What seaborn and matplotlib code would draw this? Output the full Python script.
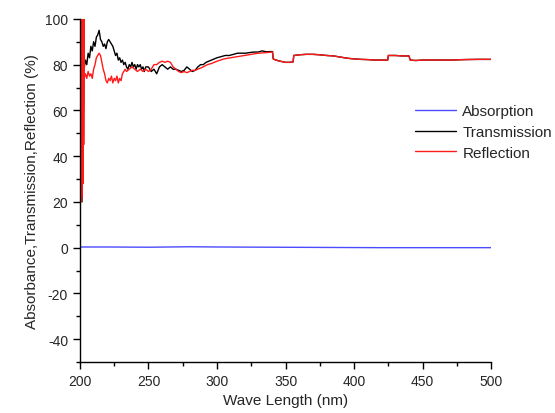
import numpy as np
import pandas as pd
import matplotlib
matplotlib.use("Agg")
import matplotlib.pyplot as plt
from matplotlib.ticker import MultipleLocator
import seaborn as sns

# Datos (nm, %)
abs_wl = [200, 220, 250, 280, 300, 340, 380, 420, 460, 500]
abs_val = [0.3, 0.3, 0.2, 0.4, 0.3, 0.2, 0.1, 0.0, 0.0, 0.0]

tra_wl = [201.5, 202, 202.5, 203, 204, 205, 206, 207, 208, 209, 210, 211, 212, 213, 214,
          215, 216, 217, 218, 219, 220, 221, 222, 223, 224, 225, 226, 227, 228, 229,
          230, 231, 232, 233, 234, 235, 236, 237, 238, 239, 240, 241, 242, 243, 244,
          245, 246, 247, 248, 250, 252, 254, 256, 258, 260, 262, 264, 266, 268, 270,
          272, 274, 276, 278, 280, 282, 284, 286, 288, 290, 292, 294, 296, 298, 300,
          303, 306, 309, 312, 315, 318, 321, 324, 327, 330, 333, 336, 338, 340.5, 341,
          343, 346, 350, 353, 355.5, 356, 360, 365, 370, 375, 380, 385, 390, 395, 400,
          405, 410, 415, 420, 424.5, 425, 430, 435, 440, 441, 445, 450, 460, 470, 480,
          490, 500]
tra_val = [20, 100, 48, 78, 82, 80, 85, 83, 88, 86, 90, 88, 92, 93, 95,
           91, 90, 88, 89, 87, 90, 91, 90, 89, 88, 86, 84, 85, 82, 83,
           81, 82, 80, 81, 79, 78, 80, 79, 81, 79, 80, 78, 80, 79, 80,
           78, 79, 77, 79, 79, 77, 78, 76, 79, 80, 79, 78, 79, 78, 78,
           77.5, 77, 77.5, 79, 78, 77, 77.5, 79, 80, 80, 81, 81.5, 82, 82.5, 83,
           83.5, 84, 84, 84.5, 85, 85, 85, 85.3, 85.5, 85.5, 86, 85.6, 85.7, 85.7, 82.5,
           82, 81.5, 81, 81, 81.2, 84, 84.3, 84.5, 84.5, 84.3, 84, 83.8, 83.3, 82.8, 82.5,
           82.3, 82.2, 82, 82, 82, 84, 84, 83.8, 83.8, 82, 81.8, 82, 82, 82, 82.2,
           82.3, 82.3]

ref_wl = [200, 200.1, 200.25, 200.4, 200.5, 200.6, 200.75, 200.9, 201, 201.1, 201.25,
          201.4, 201.5, 201.6, 201.75, 201.9, 202, 202.1, 202.25, 202.4, 202.5, 202.6,
          202.75, 202.9, 203, 204, 205, 206, 207, 208, 209, 210, 211, 212, 213, 214, 215,
          216, 217, 218, 219, 220, 221, 222, 223, 224, 225, 226, 227, 228, 229, 230,
          231, 232, 233, 234, 236, 238, 240, 242, 244, 246, 248, 250, 252, 254, 256,
          258, 260, 262, 264, 266, 268, 270, 272, 274, 276, 278, 280, 282, 284, 286,
          288, 290, 293, 296, 300, 305, 310, 315, 320, 325, 330, 335, 340.5, 341,
          343, 346, 350, 353, 355.5, 356, 360, 365, 370, 375, 380, 385, 390, 395, 400,
          405, 410, 415, 420, 424.5, 425, 430, 435, 440, 441, 445, 450, 460, 470, 480,
          490, 500]
ref_val = [-60, 100, 25, 100, 20, 100, 30, 100, 20, 100, 25,
           100, 30, 100, 22, 100, 35, 100, 28, 100, 60, 100,
           45, 100, 74, 76, 74, 77, 75, 76, 74, 78, 80, 83, 84, 85, 84,
           81, 78, 76, 73, 72, 74, 73, 75, 72, 74, 73, 75, 72, 74, 73,
           76, 77, 78, 77, 78, 79, 78, 77, 78, 77, 78, 77, 78, 80, 80,
           81, 81.5, 81, 81.5, 81, 79, 78, 77, 76.5, 77, 76.5, 77, 77.5, 77.5, 78,
           78.5, 79, 80, 80.5, 81.5, 82.5, 83, 83.5, 84, 84.5, 85, 85.2, 85.5, 82.5,
           82, 81.5, 81, 81, 81.2, 84, 84.3, 84.5, 84.5, 84.3, 84, 83.8, 83.3, 82.8, 82.5,
           82.3, 82.2, 82, 82, 82, 84, 84, 83.8, 83.8, 82, 81.8, 82, 82, 82, 82.2,
           82.3, 82.3]

df_abs = pd.DataFrame({"wl": abs_wl, "val": abs_val})
df_tra = pd.DataFrame({"wl": tra_wl, "val": tra_val})
df_ref = pd.DataFrame({"wl": ref_wl, "val": ref_val})

sns.set_style("ticks")
plt.rcParams["font.family"] = ["Liberation Sans", "DejaVu Sans"]
plt.rcParams["axes.unicode_minus"] = False

fig = plt.figure(figsize=(5.55, 4.14), dpi=100)
ax = fig.add_axes([0.144, 0.123, 0.741, 0.829])

sns.lineplot(data=df_abs, x="wl", y="val", color="#4b4bff", lw=1, label="Absorption", ax=ax)
sns.lineplot(data=df_tra, x="wl", y="val", color="black", lw=1, label="Transmission", ax=ax)
sns.lineplot(data=df_ref, x="wl", y="val", color="#ff1a1a", lw=1, label="Reflection", ax=ax)

ax.set_xlim(200, 500)
ax.set_ylim(-50, 100)
ax.xaxis.set_major_locator(MultipleLocator(50))
ax.xaxis.set_minor_locator(MultipleLocator(25))
ax.yaxis.set_major_locator(MultipleLocator(20))
ax.yaxis.set_minor_locator(MultipleLocator(10))
ax.tick_params(which="major", direction="out", length=5, width=1, labelsize=10, color="black")
ax.tick_params(which="minor", direction="out", length=3, width=1, color="black")
sns.despine(ax=ax)
for s in ["left", "bottom"]:
    ax.spines[s].set_color("black")
    ax.spines[s].set_linewidth(1)

ax.set_xlabel("Wave Length (nm)", fontsize=11)
ax.set_ylabel("Absorbance,Transmission,Reflection (%)", fontsize=11)

leg = ax.legend(frameon=False, loc="upper left", bbox_to_anchor=(0.815, 0.752), fontsize=11,
                handlelength=2.7, labelspacing=0.45, handletextpad=0.4, borderaxespad=0,
                borderpad=0)
leg.set_clip_on(False)

fig.savefig("out.png", dpi=100)
